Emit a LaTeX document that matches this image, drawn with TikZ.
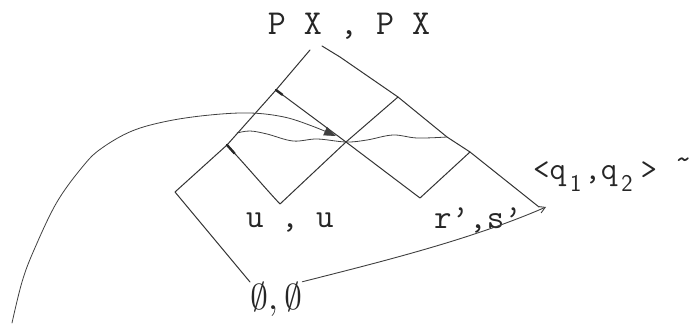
\documentclass[tikz,border=0pt]{standalone}
\usepackage{fontspec}
\usetikzlibrary{arrows.meta,calc}
\begin{document}
\begin{tikzpicture}[x=1pt,y=-1pt,
  edge/.style={line width=1pt, draw=black!80, line join=round, line cap=round},
  tickmark/.style={line width=2.4pt, draw=black!85, line cap=round},
  wave/.style={line width=0.8pt, draw=black!75, line cap=round},
  tw/.style={font=\ttfamily\fontsize{34}{34}\selectfont, text=black!85, inner sep=0pt}]
\useasboundingbox (0,0) rectangle (699,326);
% lattice points
\coordinate (apL) at (310,50);
\coordinate (apR) at (322,46);
\coordinate (a1) at (276,90);
\coordinate (b1) at (227,145);
\coordinate (lc) at (175,192);
\coordinate (lb) at (250,282);
\coordinate (r1) at (398,97);
\coordinate (r2) at (447,137);
\coordinate (r3) at (470,152);
\coordinate (rt) at (539,207);
\coordinate (cen) at (346,142);
\coordinate (v1) at (280,204);
\coordinate (v2) at (420,198);
\coordinate (tip) at (546,207);
% outer edges
\draw[edge] (apL) -- (a1) -- (b1) -- (lc) -- (lb);
\draw[edge] (apR) -- (340,57) -- (r1) -- (r2) -- (r3) -- (rt);
% inner lines
\draw[edge] (a1) -- (cen) -- (v2) -- (r3);
\draw[edge] (b1) .. controls (250,170) and (265,188) .. (v1) -- (cen) -- (r1);
% ticks
\draw[tickmark] (a1) -- ($(a1)!0.09!(cen)$);
\draw[tickmark] (b1) -- ($(b1)!0.14!(v1)$);
% wavy curves
\draw[wave] plot[smooth, tension=0.6] coordinates {(237,133) (250,131) (267,134) (293,141) (317,139) (346,142) (367,140) (393,135) (417,138) (447,137)};
\draw[wave, -{Triangle[length=12pt,width=9pt]}] plot[smooth, tension=0.6] coordinates {(12,323) (22,282) (34,250) (57,202) (84,165) (102,148) (132,131) (168,121) (210,115) (250,113) (284,117) (312,126) (336,136)};
% labels
\node[tw, anchor=base, font=\ttfamily\fontsize{35}{35}\selectfont] (top) at (349,35) {P X , P X};
\node[tw, anchor=base] (uu) at (290,227) {u , u};
\node[tw, anchor=base] (rs) at (478,228) {r’,s’};
\node[inner sep=0pt, text=black!85] (e) at (276,299) {\scalebox{3.6}{$\emptyset,\emptyset$}};
\node[inner sep=0pt, anchor=base west, text=black!85] (q) at (533,179)
  {\ttfamily\fontsize{32}{32}\selectfont <q\hspace{4pt}\raisebox{-12pt}{\sffamily\fontsize{24}{24}\selectfont 1}\hspace{3pt},q\hspace{4pt}\raisebox{-12pt}{\sffamily\fontsize{24}{24}\selectfont 2}\hspace{8pt}>\hspace{18pt}\raisebox{10pt}{\textasciitilde}};
% arrow from empty set to tip
\draw[wave, line width=0.9pt, -{Straight Barb[length=6pt,width=7pt]}] (e.north east) .. controls (380,262) and (470,240) .. (tip);
\end{tikzpicture}
\end{document}
